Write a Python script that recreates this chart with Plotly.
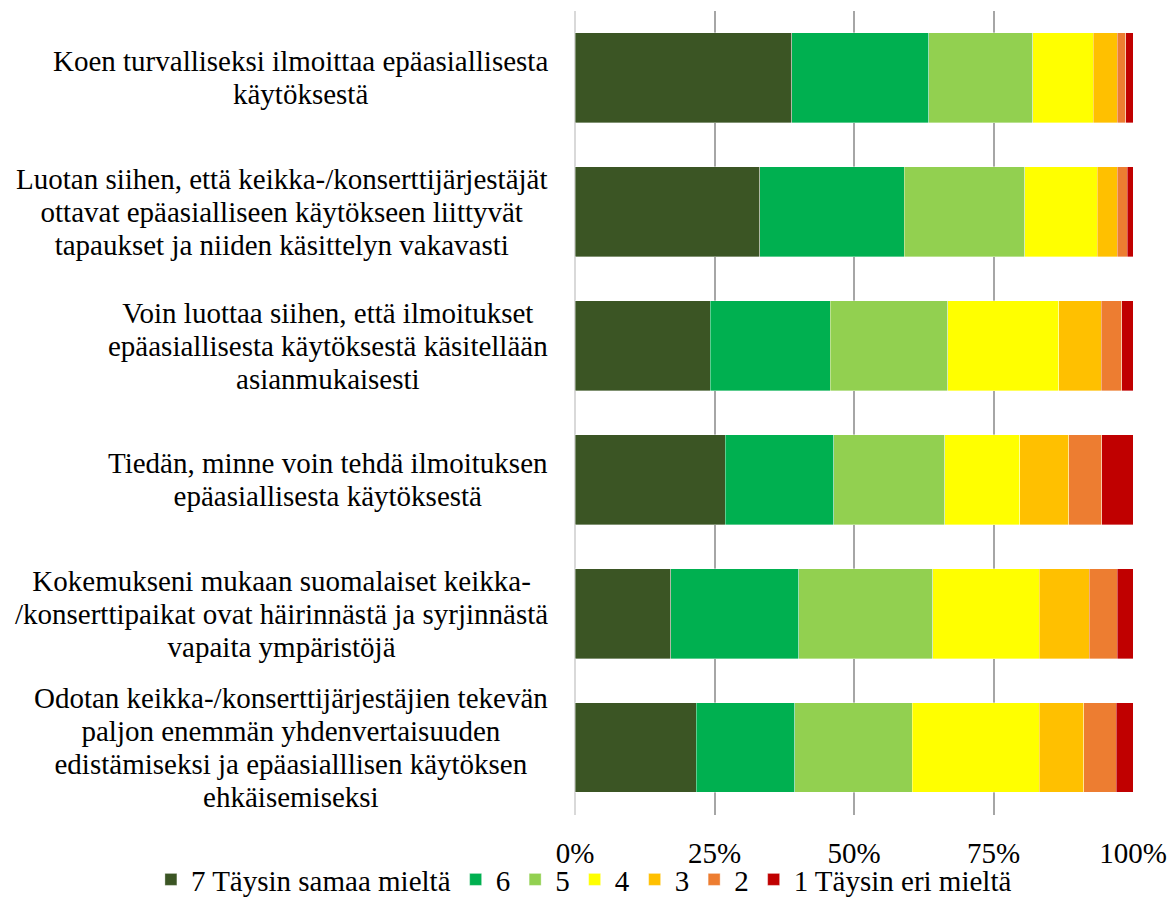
import plotly.graph_objects as go

# Survey statements (line breaks as shown in the chart)
statements = [
    "Koen turvalliseksi ilmoittaa epäasiallisesta\nkäytöksestä",
    "Luotan siihen, että keikka-/konserttijärjestäjät\nottavat epäasialliseen käytökseen liittyvät\ntapaukset ja niiden käsittelyn vakavasti",
    "Voin luottaa siihen, että ilmoitukset\nepäasiallisesta käytöksestä käsitellään\nasianmukaisesti",
    "Tiedän, minne voin tehdä ilmoituksen\nepäasiallisesta käytöksestä",
    "Kokemukseni mukaan suomalaiset keikka-\n/konserttipaikat ovat häirinnästä ja syrjinnästä\nvapaita ympäristöjä",
    "Odotan keikka-/konserttijärjestäjien tekevän\npaljon enemmän yhdenvertaisuuden\nedistämiseksi ja epäasialllisen käytöksen\nehkäisemiseksi",
]

# Share of answers (%) per scale point, one list per answer option
scale_labels = ["7 Täysin samaa mieltä", "6", "5", "4", "3", "2", "1 Täysin eri mieltä"]
s7 = [38.8, 33.1, 24.2, 26.9, 17.2, 21.7]
s6 = [24.6, 25.9, 21.5, 19.5, 22.9, 17.7]
s5 = [18.6, 21.6, 21.1, 19.9, 24.0, 21.0]
s4 = [10.9, 13.0, 19.9, 13.4, 19.1, 22.8]
s3 = [4.3, 3.6, 7.6, 8.8, 9.0, 8.0]
s2 = [1.5, 1.8, 3.7, 5.9, 5.0, 5.8]
s1 = [1.3, 1.0, 2.0, 5.6, 2.8, 3.0]
series = [s7, s6, s5, s4, s3, s2, s1]

tick_vals = [0, 25, 50, 75, 100]
tick_text = ["0%", "25%", "50%", "75%", "100%"]

colors = ["#3B5524", "#00B050", "#92D050", "#FFFF00", "#FFC000", "#ED7D31", "#C00000"]

FONT = "'Liberation Serif', Tinos, 'Times New Roman', Times, 'Noto Serif', 'DejaVu Serif', FreeSerif, serif"
FS = 29

cats = [s.replace("\n", " ") for s in statements]

fig = go.Figure()
for name, vals, col in zip(scale_labels, series, colors):
    fig.add_trace(go.Bar(
        y=cats, x=vals, name=name, orientation="h",
        marker=dict(color=col, line=dict(color="rgba(255,255,255,0.6)", width=0.6)),
        hoverinfo="x+name",
    ))

# Multi-line category labels, lines centred on each other
for cat, text in zip(cats, statements):
    lines = text.split("\n")
    html = "<br>".join(f'<span style="font-size:{FS}px">{ln}</span>' for ln in lines)
    fig.add_annotation(
        x=0, xref="paper", y=cat, yref="y",
        xanchor="right", yanchor="middle", xshift=-25,
        text=html, align="center", showarrow=False,
        font=dict(family=FONT, size=25.4, color="#000000"),
    )

fig.update_layout(
    barmode="stack",
    bargap=0.328,
    width=1170, height=920,
    margin=dict(l=575, r=37, t=11, b=105),
    paper_bgcolor="white", plot_bgcolor="white",
    font=dict(family=FONT, size=FS, color="#000000"),
    legend=dict(
        orientation="h",
        x=-0.76, xanchor="left", y=-0.112, yanchor="bottom",
        bgcolor="rgba(0,0,0,0)",
        font=dict(family=FONT, size=FS, color="#000000"),
        traceorder="normal",
    ),
    xaxis=dict(
        range=[0, 100], tickvals=tick_vals, ticktext=tick_text,
        showgrid=True, gridcolor="#A6A6A6", gridwidth=1.5,
        zeroline=True, zerolinecolor="#D9D9D9", zerolinewidth=1.5,
        showline=False, ticks="", ticklabelstandoff=18,
        tickfont=dict(family=FONT, size=FS),
        automargin=False, fixedrange=True,
    ),
    yaxis=dict(
        categoryorder="array", categoryarray=cats,
        autorange="reversed", showticklabels=False,
        showgrid=False, zeroline=False, showline=False, ticks="",
        automargin=False, fixedrange=True,
    ),
)

fig.write_html("out.html")
